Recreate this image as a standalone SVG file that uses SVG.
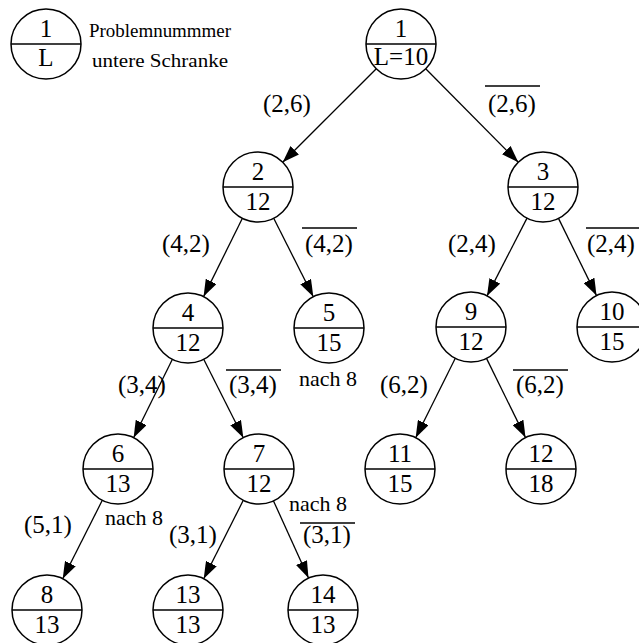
<svg xmlns="http://www.w3.org/2000/svg" width="639" height="643" viewBox="0 0 639 643">
<defs>
<marker id="ah" markerUnits="userSpaceOnUse" markerWidth="18" markerHeight="12" viewBox="0 0 18 12" refX="17" refY="6" orient="auto">
<path d="M0,0 L17,6 L0,12 Z" fill="#000"/>
</marker>
</defs>
<style>
.n circle{fill:#fff;stroke:#000;stroke-width:1.5}
.n line{stroke:#000;stroke-width:1.5}
.n text{font-family:"Liberation Serif","Times New Roman",serif;font-size:25px;text-anchor:middle;fill:#000}
.e line{stroke:#000;stroke-width:1.3;marker-end:url(#ah)}
.lbl{font-family:"Liberation Serif","Times New Roman",serif;font-size:25px;text-anchor:middle;fill:#000}
.small{font-family:"Liberation Serif","Times New Roman",serif;font-size:22px;text-anchor:middle;fill:#000}
.leg{font-family:"Liberation Serif","Times New Roman",serif;font-size:19px;fill:#000}
.ol{stroke:#000;stroke-width:1.3}
</style>
<rect width="639" height="643" fill="#fff"/>
<g id="legend" class="n">
<circle cx="46" cy="44" r="35"/><line x1="11" y1="44" x2="81" y2="44"/>
<text x="46" y="37">1</text><text x="46" y="66">L</text>
</g>
<text class="leg" x="89" y="37" textLength="142" lengthAdjust="spacingAndGlyphs">Problemnummmer</text>
<text class="leg" x="92" y="67" textLength="136" lengthAdjust="spacingAndGlyphs">untere Schranke</text>
<g id="connectors" class="e">
<line x1="376.3" y1="68.7" x2="282.7" y2="162.3"/>
<line x1="425.7" y1="68.8" x2="518.3" y2="162.2"/>
<line x1="242.4" y1="218.3" x2="203.6" y2="296.6"/>
<line x1="273.7" y1="218.3" x2="313.3" y2="296.7"/>
<line x1="527.0" y1="218.1" x2="487.0" y2="295.9"/>
<line x1="558.5" y1="218.4" x2="596.5" y2="295.6"/>
<line x1="172.4" y1="359.3" x2="133.6" y2="437.7"/>
<line x1="203.7" y1="359.3" x2="243.3" y2="437.7"/>
<line x1="455.3" y1="358.3" x2="415.7" y2="437.7"/>
<line x1="486.5" y1="358.4" x2="525.5" y2="437.6"/>
<line x1="102.3" y1="500.3" x2="62.7" y2="578.7"/>
<line x1="243.3" y1="500.3" x2="203.7" y2="578.7"/>
<line x1="273.5" y1="500.9" x2="308.5" y2="578.1"/>
</g>
<g id="n1" class="n"><circle cx="401" cy="44" r="35"/><line x1="366" y1="44" x2="436" y2="44"/><text x="401" y="37">1</text><text x="401" y="65">L=10</text></g>
<g id="n2" class="n"><circle cx="258" cy="187" r="35"/><line x1="223" y1="187" x2="293" y2="187"/><text x="258" y="180">2</text><text x="258" y="210">12</text></g>
<g id="n3" class="n"><circle cx="543" cy="187" r="35"/><line x1="508" y1="187" x2="578" y2="187"/><text x="543" y="180">3</text><text x="543" y="210">12</text></g>
<g id="n4" class="n"><circle cx="188" cy="328" r="35"/><line x1="153" y1="328" x2="223" y2="328"/><text x="188" y="321">4</text><text x="188" y="351">12</text></g>
<g id="n5" class="n"><circle cx="329" cy="328" r="35"/><line x1="294" y1="328" x2="364" y2="328"/><text x="329" y="321">5</text><text x="329" y="351">15</text></g>
<g id="n9" class="n"><circle cx="471" cy="327" r="35"/><line x1="436" y1="327" x2="506" y2="327"/><text x="471" y="320">9</text><text x="471" y="350">12</text></g>
<g id="n10" class="n"><circle cx="612" cy="327" r="35"/><line x1="577" y1="327" x2="647" y2="327"/><text x="612" y="320">10</text><text x="612" y="350">15</text></g>
<g id="n6" class="n"><circle cx="118" cy="469" r="35"/><line x1="83" y1="469" x2="153" y2="469"/><text x="118" y="462">6</text><text x="118" y="492">13</text></g>
<g id="n7" class="n"><circle cx="259" cy="469" r="35"/><line x1="224" y1="469" x2="294" y2="469"/><text x="259" y="462">7</text><text x="259" y="492">12</text></g>
<g id="n11" class="n"><circle cx="400" cy="469" r="35"/><line x1="365" y1="469" x2="435" y2="469"/><text x="400" y="462">11</text><text x="400" y="492">15</text></g>
<g id="n12" class="n"><circle cx="541" cy="469" r="35"/><line x1="506" y1="469" x2="576" y2="469"/><text x="541" y="462">12</text><text x="541" y="492">18</text></g>
<g id="n8" class="n"><circle cx="47" cy="610" r="35"/><line x1="12" y1="610" x2="82" y2="610"/><text x="47" y="603">8</text><text x="47" y="633">13</text></g>
<g id="n13" class="n"><circle cx="188" cy="610" r="35"/><line x1="153" y1="610" x2="223" y2="610"/><text x="188" y="603">13</text><text x="188" y="633">13</text></g>
<g id="n14" class="n"><circle cx="323" cy="610" r="35"/><line x1="288" y1="610" x2="358" y2="610"/><text x="323" y="603">14</text><text x="323" y="633">13</text></g>
<g id="labels">
<text class="lbl" x="287" y="112">(2,6)</text>
<text class="lbl" x="512" y="112">(2,6)</text><line class="ol" x1="485" y1="86" x2="540" y2="86"/>
<text class="lbl" x="186" y="252">(4,2)</text>
<text class="lbl" x="329" y="252">(4,2)</text><line class="ol" x1="302" y1="228" x2="357" y2="228"/>
<text class="lbl" x="472" y="252">(2,4)</text>
<text class="lbl" x="611" y="252">(2,4)</text><line class="ol" x1="586" y1="228" x2="639" y2="228"/>
<text class="lbl" x="142" y="393">(3,4)</text>
<text class="lbl" x="253" y="393">(3,4)</text><line class="ol" x1="226" y1="370" x2="281" y2="370"/>
<text class="small" x="328" y="386">nach 8</text>
<text class="lbl" x="404" y="393">(6,2)</text>
<text class="lbl" x="540" y="393">(6,2)</text><line class="ol" x1="513" y1="370" x2="568" y2="370"/>
<text class="lbl" x="48" y="533">(5,1)</text>
<text class="small" x="134" y="525">nach 8</text>
<text class="lbl" x="193" y="543">(3,1)</text>
<text class="small" x="318" y="511">nach 8</text>
<text class="lbl" x="327" y="543">(3,1)</text><line class="ol" x1="300" y1="523" x2="355" y2="523"/>
</g>
</svg>
